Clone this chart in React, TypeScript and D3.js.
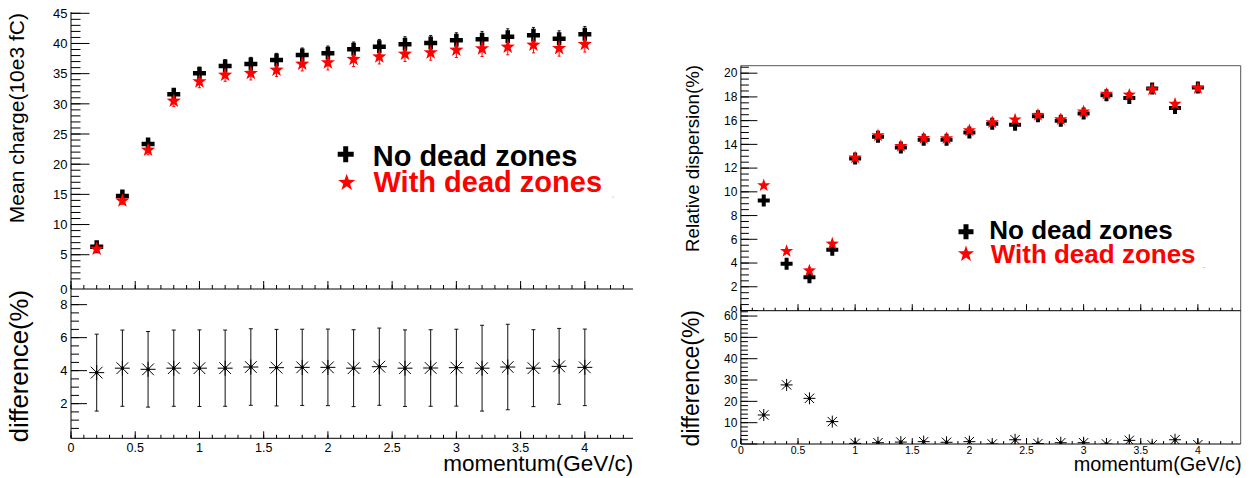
import React from "react";
import * as d3 from "d3";

// ---------------- DATA ----------------
const momentum = [0.2, 0.4, 0.6, 0.8, 1.0, 1.2, 1.4, 1.6, 1.8, 2.0, 2.2, 2.4, 2.6, 2.8, 3.0, 3.2, 3.4, 3.6, 3.8, 4.0];

// Left: mean charge (10e3 fC)
const chargeNoDead = [6.33, 14.73, 23.35, 31.58, 35.06, 36.27, 36.6, 37.27, 38.1, 38.38, 39.04, 39.47, 39.87, 40.08, 40.53, 40.7, 41.13, 41.36, 40.8, 41.52];
const chargeNoDeadErr = [0.5, 0.6, 0.8, 0.9, 1.0, 1.05, 1.1, 1.1, 1.15, 1.2, 1.2, 1.2, 1.25, 1.25, 1.25, 1.3, 1.3, 1.3, 1.3, 1.3];
const chargeWithDead = [5.95, 13.95, 22.35, 30.47, 33.67, 34.78, 35.06, 35.61, 36.6, 36.82, 37.38, 37.81, 38.26, 38.48, 38.92, 39.14, 39.42, 39.75, 39.2, 39.87];
const chargeWithDeadErr = [0.5, 0.6, 0.8, 0.9, 1.0, 1.05, 1.1, 1.1, 1.15, 1.2, 1.2, 1.2, 1.25, 1.25, 1.25, 1.3, 1.3, 1.3, 1.3, 1.3];
const chargeDiff = [3.88, 4.15, 4.08, 4.15, 4.15, 4.15, 4.22, 4.18, 4.2, 4.2, 4.15, 4.24, 4.15, 4.16, 4.18, 4.15, 4.22, 4.15, 4.26, 4.2];
const chargeDiffErr = [2.33, 2.31, 2.29, 2.31, 2.32, 2.31, 2.32, 2.32, 2.31, 2.32, 2.33, 2.34, 2.32, 2.32, 2.33, 2.6, 2.59, 2.33, 2.3, 2.32];

// Right: relative dispersion (%)
const dispNoDead = [9.27, 3.93, 2.8, 5.12, 12.8, 14.64, 13.73, 14.38, 14.38, 15.0, 15.74, 15.65, 16.36, 15.99, 16.61, 18.14, 17.91, 18.7, 17.07, 18.79];
const dispWithDead = [10.54, 5.0, 3.36, 5.62, 12.88, 14.75, 13.85, 14.52, 14.5, 15.17, 15.85, 16.08, 16.47, 16.1, 16.75, 18.25, 18.17, 18.62, 17.4, 18.73];
const dispDiff = [13.6, 27.7, 21.4, 10.5, 0.3, 0.6, 0.9, 1.1, 0.8, 1.1, 0.0, 2.0, 0.2, 0.6, 0.6, 0.0, 1.7, -0.4, 2.0, -0.3];

// Tick values / labels
const xMajorTicks = [0, 0.5, 1, 1.5, 2, 2.5, 3, 3.5, 4];
const xTickLabels = ["0", "0.5", "1", "1.5", "2", "2.5", "3", "3.5", "4"];
const chargeMajorTicks = [0, 5, 10, 15, 20, 25, 30, 35, 40, 45];
const chargeDiffMajorTicks = [2, 4, 6, 8];
const dispMajorTicks = [0, 2, 4, 6, 8, 10, 12, 14, 16, 18, 20];
const dispDiffMajorTicks = [0, 10, 20, 30, 40, 50, 60];

const legendLabels = ["No dead zones", "With dead zones"];
const xTitle = "momentum(GeV/c)";

// ---------------- STYLE ----------------
const FONT = "'Liberation Sans', Arial, Helvetica, sans-serif";
const RED = "#ff0000";

const crossPath = (s: number, t: number) => {
  const h = s / 2, w = t / 2;
  return `M${-w},${-h}L${w},${-h}L${w},${-w}L${h},${-w}L${h},${w}L${w},${w}L${w},${h}L${-w},${h}L${-w},${w}L${-h},${w}L${-h},${-w}L${-w},${-w}Z`;
};
const starPath = (r: number) => {
  const ri = r * 0.4;
  const pts: string[] = [];
  for (let i = 0; i < 10; i++) {
    const a = -Math.PI / 2 + (i * Math.PI) / 5;
    const rr = i % 2 === 0 ? r : ri;
    pts.push(`${(rr * Math.cos(a)).toFixed(2)},${(rr * Math.sin(a)).toFixed(2)}`);
  }
  return "M" + pts.join("L") + "Z";
};
const asteriskPath = (h: number) => {
  const d = h * 0.78;
  return `M${-h},0L${h},0M0,${-h}L0,${h}M${-d},${-d}L${d},${d}M${-d},${d}L${d},${-d}`;
};

function YTicks({ x, scale, major, minorStep, lo, hi, majLen, minLen, fs, labels }: any) {
  const minors = d3.range(lo, hi + 1e-9, minorStep);
  return (
    <g>
      {minors.map((v: number, i: number) => (
        <line key={"m" + i} x1={x} x2={x + minLen} y1={scale(v)} y2={scale(v)} stroke="#000" strokeWidth={1} />
      ))}
      {major.map((v: number, i: number) => (
        <line key={"M" + i} x1={x} x2={x + majLen} y1={scale(v)} y2={scale(v)} stroke="#000" strokeWidth={1} />
      ))}
      {labels &&
        major.map((v: number, i: number) => (
          <text key={"l" + i} x={x - 3.5} y={scale(v)} dy="0.36em" textAnchor="end" fontFamily={FONT} fontSize={fs} fill="#000">
            {String(v)}
          </text>
        ))}
    </g>
  );
}

function XTicks({ y, scale, majLen, minLen, labels, fs, labelY }: any) {
  const minors = d3.range(0, 4.35, 0.1);
  return (
    <g>
      {minors.map((v: number, i: number) => (
        <line key={"m" + i} x1={scale(v)} x2={scale(v)} y1={y} y2={y - minLen} stroke="#000" strokeWidth={1} />
      ))}
      {xMajorTicks.map((v, i) => (
        <line key={"M" + i} x1={scale(v)} x2={scale(v)} y1={y} y2={y - majLen} stroke="#000" strokeWidth={1} />
      ))}
      {labels &&
        xMajorTicks.map((v, i) => (
          <text key={"l" + i} x={scale(v)} y={labelY} dy="0.36em" textAnchor="middle" fontFamily={FONT} fontSize={fs} fill="#000">
            {xTickLabels[i]}
          </text>
        ))}
    </g>
  );
}

function ErrorBar({ x, y1, y2, cap }: any) {
  return (
    <g stroke="#111" strokeWidth={1}>
      <line x1={x} x2={x} y1={y1} y2={y2} />
      <line x1={x - cap} x2={x + cap} y1={y1} y2={y1} />
      <line x1={x - cap} x2={x + cap} y1={y2} y2={y2} />
    </g>
  );
}

export default function App() {
  // ----- Left scales -----
  const xL = d3.scaleLinear().domain([0, 4.375]).range([71, 633]);
  const yLT = d3.scaleLinear().domain([0, 45]).range([284.9, 13.3]);
  const yLB = d3.scaleLinear().domain([-0.1, 8.93]).range([438.3, 289.3]);
  // ----- Right scales -----
  const xR = d3.scaleLinear().domain([0, 4.375]).range([740.9, 1240.7]);
  const yRT = d3.scaleLinear().domain([0, 20.63]).range([310.5, 65.7]);
  const yRB = d3.scaleLinear().domain([0, 62.5]).range([444, 310.7]);

  const crossL = crossPath(13, 4.5);
  const starL = starPath(7.5);
  const crossR = crossPath(12, 4);
  const starR = starPath(7);

  return (
    <div style={{ position: "fixed", left: 0, top: 0 }}>
      <svg width={1252} height={478} viewBox="0 0 1252 478" style={{ display: "block", background: "#fff" }}>
        <rect x={0} y={0} width={1252} height={478} fill="#fff" />
        <defs>
          <clipPath id="clipRB">
            <rect x={740.9} y={310.7} width={499.8} height={133.3} />
          </clipPath>
        </defs>

        {/* ================= LEFT TOP ================= */}
        <line x1={71} x2={71} y1={12} y2={289} stroke="#000" />
        <line x1={71} x2={633} y1={289} y2={289} stroke="#000" />
        <YTicks x={71} scale={yLT} major={chargeMajorTicks.filter((v) => v > 0)} minorStep={1} lo={1} hi={45} majLen={18.5} minLen={9.5} fs={13} labels={true} />
        <text x={67.5} y={289} dy="0.36em" textAnchor="end" fontFamily={FONT} fontSize={13}>0</text>
        <XTicks y={289} scale={xL} majLen={8} minLen={4} labels={false} />
        <text transform="translate(24,13) rotate(-90)" textAnchor="end" fontFamily={FONT} fontSize={21}>Mean charge(10e3 fC)</text>

        {/* error bars */}
        {momentum.map((m, i) => (
          <ErrorBar key={"eb" + i} x={xL(m)} y1={yLT(chargeNoDead[i] + chargeNoDeadErr[i])} y2={yLT(chargeNoDead[i] - chargeNoDeadErr[i])} cap={1.5} />
        ))}
        {momentum.map((m, i) => (
          <path key={"cb" + i} d={crossL} transform={`translate(${xL(m)},${yLT(chargeNoDead[i])})`} fill="#000" />
        ))}
        {momentum.map((m, i) => (
          <g key={"er" + i} stroke={RED} strokeWidth={1}>
            <line x1={xL(m)} x2={xL(m)} y1={yLT(chargeWithDead[i] + chargeWithDeadErr[i])} y2={yLT(chargeWithDead[i] - chargeWithDeadErr[i])} />
            <line x1={xL(m) - 1.5} x2={xL(m) + 1.5} y1={yLT(chargeWithDead[i] - chargeWithDeadErr[i])} y2={yLT(chargeWithDead[i] - chargeWithDeadErr[i])} />
          </g>
        ))}
        {momentum.map((m, i) => (
          <path key={"sr" + i} d={starL} transform={`translate(${xL(m)},${yLT(chargeWithDead[i])})`} fill={RED} />
        ))}

        {/* legend left */}
        <path d={crossPath(16, 5)} transform="translate(345.7,154.3)" fill="#000" />
        <path d={starPath(9)} transform="translate(346.7,182.7)" fill={RED} />
        <text x={372.7} y={165.7} fontFamily={FONT} fontWeight="bold" fontSize={29} fill="#000">{legendLabels[0]}</text>
        <text x={373.5} y={191.7} fontFamily={FONT} fontWeight="bold" fontSize={29} fill={RED}>{legendLabels[1]}</text>
        <rect x={612.5} y={196.5} width={1.5} height={1} fill="#bbb" />

        {/* ================= LEFT BOTTOM ================= */}
        <line x1={71} x2={71} y1={289} y2={438.3} stroke="#000" />
        <line x1={71} x2={633} y1={438.3} y2={438.3} stroke="#000" />
        <YTicks x={71} scale={yLB} major={chargeDiffMajorTicks} minorStep={0.5} lo={0.5} hi={8.5} majLen={16} minLen={8} fs={13} labels={true} />
        <XTicks y={438.3} scale={xL} majLen={7} minLen={3.5} labels={true} fs={12.5} labelY={447.3} />
        <text transform="translate(27.6,290) rotate(-90)" textAnchor="end" fontFamily={FONT} fontSize={25.7}>difference(%)</text>
        <text x={633.3} y={470.5} textAnchor="end" fontFamily={FONT} fontSize={22.5}>{xTitle}</text>
        {momentum.map((m, i) => (
          <ErrorBar key={"ebd" + i} x={xL(m)} y1={yLB(chargeDiff[i] + chargeDiffErr[i])} y2={yLB(chargeDiff[i] - chargeDiffErr[i])} cap={2} />
        ))}
        {momentum.map((m, i) => (
          <g key={"ad" + i} transform={`translate(${xL(m)},${yLB(chargeDiff[i])})`}>
            <path d={asteriskPath(7.5)} stroke="#000" strokeWidth={1} fill="none" />
            <rect x={-1.5} y={-1.5} width={3} height={3} fill="#000" />
          </g>
        ))}

        {/* ================= RIGHT TOP ================= */}
        <line x1={740.9} x2={1240.7} y1={65.7} y2={65.7} stroke="#555" />
        <line x1={1240.7} x2={1240.7} y1={65.7} y2={444} stroke="#555" />
        <line x1={740.9} x2={740.9} y1={65.7} y2={310.7} stroke="#000" />
        <line x1={740.9} x2={1240.7} y1={310.7} y2={310.7} stroke="#000" />
        <YTicks x={740.9} scale={yRT} major={dispMajorTicks} minorStep={0.5} lo={0.5} hi={20.5} majLen={16.5} minLen={8} fs={12} labels={true} />
        <XTicks y={310.7} scale={xR} majLen={6.5} minLen={3} labels={false} />
        <text transform="translate(699.4,65) rotate(-90)" textAnchor="end" fontFamily={FONT} fontSize={18.7}>Relative dispersion(%)</text>
        {momentum.map((m, i) => (
          <path key={"cbr" + i} d={crossR} transform={`translate(${xR(m)},${yRT(dispNoDead[i])})`} fill="#000" />
        ))}
        {momentum.map((m, i) => (
          <path key={"srr" + i} d={starR} transform={`translate(${xR(m)},${yRT(dispWithDead[i])})`} fill={RED} />
        ))}
        {/* legend right */}
        <path d={crossPath(15, 5)} transform="translate(966,231.7)" fill="#000" />
        <path d={starPath(8.5)} transform="translate(966,254)" fill={RED} />
        <text x={989.3} y={239.3} fontFamily={FONT} fontWeight="bold" fontSize={26} fill="#000">{legendLabels[0]}</text>
        <text x={990.7} y={262.7} fontFamily={FONT} fontWeight="bold" fontSize={26} fill={RED}>{legendLabels[1]}</text>
        <rect x={1203} y={267} width={1.5} height={1} fill="#bbb" />

        {/* ================= RIGHT BOTTOM ================= */}
        <rect x={700} y={311.2} width={40} height={5} fill="#fff" />
        <line x1={740.9} x2={740.9} y1={310.7} y2={444} stroke="#000" />
        <line x1={740.9} x2={1240.7} y1={444} y2={444} stroke="#000" />
        <YTicks x={740.9} scale={yRB} major={dispDiffMajorTicks} minorStep={2} lo={2} hi={62} majLen={16.5} minLen={7} fs={12} labels={true} />
        <XTicks y={444} scale={xR} majLen={6} minLen={3} labels={true} fs={10.5} labelY={450.6} />
        <text transform="translate(698.5,310) rotate(-90)" textAnchor="end" fontFamily={FONT} fontSize={23}>difference(%)</text>
        <text x={1241.7} y={471.3} textAnchor="end" fontFamily={FONT} fontSize={19.9}>{xTitle}</text>
        <g clipPath="url(#clipRB)">
          {momentum.map((m, i) => (
            <g key={"adr" + i} transform={`translate(${xR(m)},${yRB(dispDiff[i])})`}>
              <path d={asteriskPath(6)} stroke="#000" strokeWidth={1} fill="none" />
              <rect x={-1.5} y={-1.5} width={3} height={3} fill="#000" />
            </g>
          ))}
        </g>
      </svg>
    </div>
  );
}
